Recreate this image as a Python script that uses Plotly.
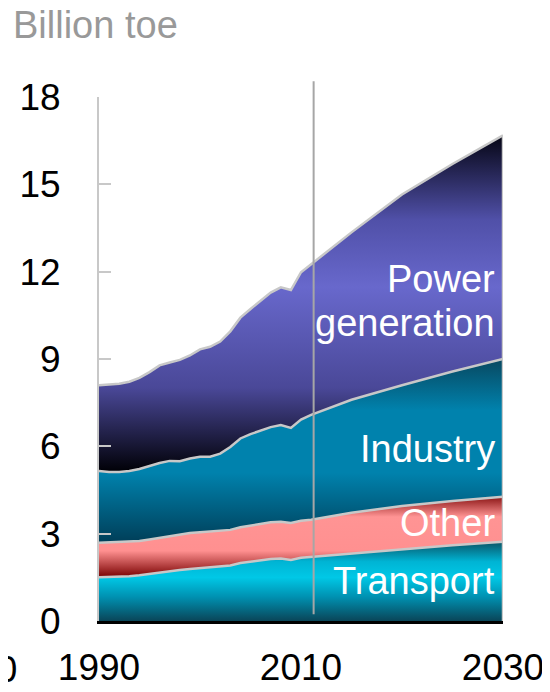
import plotly.graph_objects as go

years = [1990, 1991, 1992, 1993, 1994, 1995, 1996, 1997, 1998, 1999, 2000,
         2001, 2002, 2003, 2004, 2005, 2006, 2007, 2008, 2009, 2010, 2011,
         2015, 2020, 2025, 2030]

transport = [1.50, 1.51, 1.52, 1.54, 1.57, 1.62, 1.66, 1.71, 1.75, 1.79, 1.82,
             1.85, 1.88, 1.91, 1.99, 2.04, 2.09, 2.13, 2.15, 2.10, 2.17, 2.20,
             2.30, 2.45, 2.60, 2.72]
other = [1.19, 1.19, 1.19, 1.19, 1.18, 1.18, 1.20, 1.19, 1.21, 1.23, 1.23,
         1.23, 1.22, 1.22, 1.23, 1.23, 1.24, 1.26, 1.26, 1.27, 1.27, 1.28,
         1.42, 1.50, 1.52, 1.55]
industry = [2.46, 2.42, 2.41, 2.42, 2.47, 2.52, 2.57, 2.60, 2.53, 2.56, 2.59,
            2.56, 2.65, 2.85, 3.05, 3.15, 3.22, 3.27, 3.32, 3.26, 3.48, 3.60,
            3.88, 4.15, 4.45, 4.73]
power = [2.95, 3.00, 3.03, 3.07, 3.13, 3.23, 3.35, 3.38, 3.48, 3.54, 3.69,
         3.78, 3.85, 3.97, 4.15, 4.30, 4.45, 4.62, 4.73, 4.74, 5.06, 5.17,
         5.75, 6.55, 7.13, 7.68]

sectors = ["Transport", "Other", "Industry", "Power generation"]
y_ticks = [0, 3, 6, 9, 12, 15, 18]
x_ticks = [1990, 2010, 2030]
split_year = 2011.25

FONT = "Liberation Sans, Arial, sans-serif"
EDGE = "#c8c8c8"

scales = {
    "Transport": [[0, "#0a4558"], [0.3, "#0090b0"], [0.55, "#00c8e6"],
                  [0.75, "#00b4d4"], [1, "#0a5466"]],
    "Other": [[0, "#780000"], [0.33, "#ff9090"], [0.75, "#ff9494"],
              [1, "#8a1414"]],
    "Industry": [[0, "#003e58"], [0.38, "#0082ad"], [0.72, "#0082ad"],
                 [1, "#084860"]],
    "Power generation": [[0, "#000006"], [0.25, "#4a4898"], [0.55, "#6868cc"],
                         [0.75, "#5050a8"], [1, "#050514"]],
}

series = [transport, other, industry, power]

fig = go.Figure()
base = [0.0] * len(years)
for name, vals in zip(sectors, series):
    top = [b + v for b, v in zip(base, vals)]
    fig.add_trace(go.Scatter(
        x=years, y=vals, name=name, stackgroup="energy", mode="lines",
        line=dict(color=EDGE, width=2.5),
        fillgradient=dict(type="vertical", colorscale=scales[name],
                          start=min(base), stop=max(top)),
        showlegend=False, hoverinfo="x+y+name",
    ))
    base = top

total = base

# projection marker and right edge of the stack
fig.add_shape(type="line", xref="x", yref="paper", x0=split_year, x1=split_year,
              y0=0.013, y1=1.03, line=dict(color="#a6a6a6", width=2))
fig.add_shape(type="line", xref="x", yref="y", x0=years[-1], x1=years[-1],
              y0=0, y1=total[-1], line=dict(color=EDGE, width=2.5))

labels = [("Power", 11.75), ("generation", 10.24), ("Industry", 5.91),
          ("Other", 3.35), ("Transport", 1.36)]
for text, ypos in labels:
    fig.add_annotation(x=2029.4, y=ypos, xref="x", yref="y", text=text,
                       xanchor="right", yanchor="middle", showarrow=False,
                       font=dict(family=FONT, size=38, color="white"))

# cut-off tick label at the left edge
fig.add_annotation(x=-0.198, y=-0.05, xref="paper", yref="paper", text="1970",
                   xanchor="right", yanchor="top", showarrow=False,
                   font=dict(family=FONT, size=37, color="black"))

fig.update_layout(
    width=550, height=692,
    margin=dict(l=91, r=55, t=89, b=79, autoexpand=False),
    paper_bgcolor="white", plot_bgcolor="white",
    title=dict(text="Billion toe", x=5 / 550, xanchor="left", xref="container",
               y=1 - 17 / 692, yanchor="middle", yref="container",
               font=dict(family=FONT, size=38, color="#999999")),
    xaxis=dict(range=[1990, 2030], tickvals=x_ticks, showgrid=False,
               zeroline=False, showline=True, linecolor="black", linewidth=3,
               ticks="", ticklabelstandoff=12, automargin=False,
               tickfont=dict(family=FONT, size=37, color="black")),
    yaxis=dict(range=[0, 18], tickvals=y_ticks, showgrid=False, zeroline=False,
               showline=True, linecolor=EDGE, linewidth=2, ticks="inside",
               ticklen=12, tickwidth=2, tickcolor=EDGE, layer="above traces",
               ticklabelstandoff=29, automargin=False,
               tickfont=dict(family=FONT, size=37, color="black")),
)

fig.write_html("out.html")
